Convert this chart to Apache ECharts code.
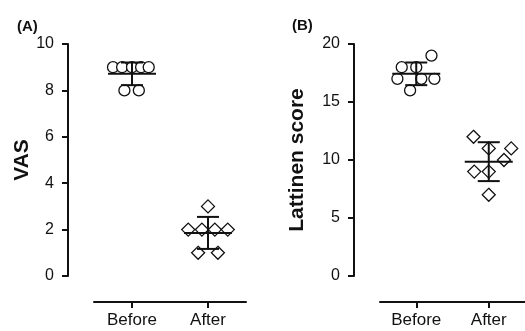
<!DOCTYPE html>
<html>
<head>
<meta charset="utf-8">
<script src="https://cdn.jsdelivr.net/npm/echarts@6/dist/echarts.min.js"></script>
<style>
  html, body { margin: 0; padding: 0; background: #fff; }
  #chart { width: 525px; height: 331px; }
</style>
</head>
<body>
<div id="chart"></div>
<script>
// Groups shown on both panels
const groups = ['Before', 'After'];

// Panel A: VAS per patient
const vasBefore = [9, 9, 9, 9, 9, 8, 8];
const vasAfter = [3, 2, 2, 2, 2, 1, 1];
// Panel B: Lattinen score per patient
const lattBefore = [19, 18, 18, 17, 17, 17, 16];
const lattAfter = [12, 11, 11, 10, 9, 9, 7];

// Horizontal spread of each dot within its group (fraction of group width)
const spreadVasBefore = [-0.25, -0.13, 0, 0.12, 0.22, -0.1, 0.09];
const spreadVasAfter = [0, -0.26, -0.08, 0.09, 0.26, -0.13, 0.13];
const spreadLattBefore = [0.21, -0.2, 0, -0.26, 0.07, 0.25, -0.085];
const spreadLattAfter = [-0.21, 0, 0.31, 0.21, -0.2, 0, 0];

// Y axis ticks
const vasTicks = { min: 0, max: 10, step: 2 };
const lattTicks = { min: 0, max: 20, step: 5 };

const FONT = '"Liberation Sans", Arial, Helvetica, sans-serif';
const INK = '#111';

function mean(a) { return a.reduce((s, v) => s + v, 0) / a.length; }
function sd(a) {
  const m = mean(a);
  return Math.sqrt(a.reduce((s, v) => s + (v - m) * (v - m), 0) / (a.length - 1));
}
function points(values, spread, gi) {
  return values.map((v, i) => [gi + spread[i], v]);
}

function errorBarSeries(axisIdx, sets) {
  return {
    type: 'custom',
    xAxisIndex: axisIdx * 2 + 1,
    yAxisIndex: axisIdx,
    z: 5,
    data: sets.map((s, gi) => [gi, mean(s), sd(s)]),
    renderItem: function (params, api) {
      const gi = api.value(0), m = api.value(1), d = api.value(2);
      const c = api.coord([gi, m]);
      const top = api.coord([gi, m + d]);
      const bot = api.coord([gi, m - d]);
      const wMean = 24, wCap = 11;
      const style = { stroke: INK, lineWidth: 2 };
      return {
        type: 'group',
        children: [
          { type: 'line', shape: { x1: c[0] - wMean, y1: c[1], x2: c[0] + wMean, y2: c[1] }, style },
          { type: 'line', shape: { x1: c[0], y1: top[1], x2: c[0], y2: bot[1] }, style },
          { type: 'line', shape: { x1: c[0] - wCap, y1: top[1], x2: c[0] + wCap, y2: top[1] }, style },
          { type: 'line', shape: { x1: c[0] - wCap, y1: bot[1], x2: c[0] + wCap, y2: bot[1] }, style }
        ]
      };
    }
  };
}

function dotSeries(axisIdx, data, symbol, size) {
  return {
    type: 'scatter',
    xAxisIndex: axisIdx * 2 + 1,
    yAxisIndex: axisIdx,
    symbol: symbol,
    symbolSize: size,
    z: 3,
    itemStyle: { color: '#fff', borderColor: INK, borderWidth: 1.3, opacity: 1 },
    data: data
  };
}

function catAxis(gridIndex) {
  return {
    type: 'category', gridIndex: gridIndex, data: groups, position: 'bottom', offset: 26,
    boundaryGap: true,
    axisLine: { show: true, onZero: false, lineStyle: { color: INK, width: 2 } },
    axisTick: { show: true, alignWithLabel: true, length: 6, lineStyle: { color: INK, width: 2 } },
    axisLabel: { color: INK, fontSize: 17, fontFamily: FONT, margin: 10 },
    splitLine: { show: false }
  };
}
function posAxis(gridIndex) {
  return {
    type: 'value', gridIndex: gridIndex, min: -0.5, max: 1.5, show: false,
    axisLine: { onZero: false }, splitLine: { show: false }
  };
}
function valAxis(gridIndex, ticks, name, gap) {
  return {
    type: 'value', gridIndex: gridIndex, min: ticks.min, max: ticks.max, interval: ticks.step,
    position: 'left', offset: 26,
    name: name, nameLocation: 'middle', nameGap: gap,
    nameTextStyle: { color: INK, fontSize: 21, fontWeight: 'bold', fontFamily: FONT },
    axisLine: { show: true, onZero: false, lineStyle: { color: INK, width: 2 } },
    axisTick: { show: true, length: 6, lineStyle: { color: INK, width: 2 } },
    axisLabel: { color: INK, fontSize: 16, fontFamily: FONT, margin: 14 },
    splitLine: { show: false }
  };
}

const chart = echarts.init(document.getElementById('chart'), null, { renderer: 'canvas' });
chart.setOption({
  backgroundColor: '#fff',
  animation: false,
  title: [
    { text: '(A)', left: 12, top: 14, textStyle: { fontSize: 15, fontWeight: 'bold', color: INK, fontFamily: FONT } },
    { text: '(B)', left: 287, top: 13, textStyle: { fontSize: 15, fontWeight: 'bold', color: INK, fontFamily: FONT } }
  ],
  grid: [
    { left: 94, top: 44, width: 152, height: 232 },
    { left: 380, top: 44, width: 152, height: 232 }
  ],
  xAxis: [catAxis(0), posAxis(0), catAxis(1), posAxis(1)],
  yAxis: [valAxis(0, vasTicks, 'VAS', 34), valAxis(1, lattTicks, 'Lattinen score', 46)],
  series: [
    dotSeries(0, points(vasBefore, spreadVasBefore, 0), 'circle', 11),
    dotSeries(0, points(vasAfter, spreadVasAfter, 1), 'diamond', [13, 13]),
    errorBarSeries(0, [vasBefore, vasAfter]),
    dotSeries(1, points(lattBefore, spreadLattBefore, 0), 'circle', 11),
    dotSeries(1, points(lattAfter, spreadLattAfter, 1), 'diamond', [13, 13]),
    errorBarSeries(1, [lattBefore, lattAfter])
  ]
});
</script>
</body>
</html>
